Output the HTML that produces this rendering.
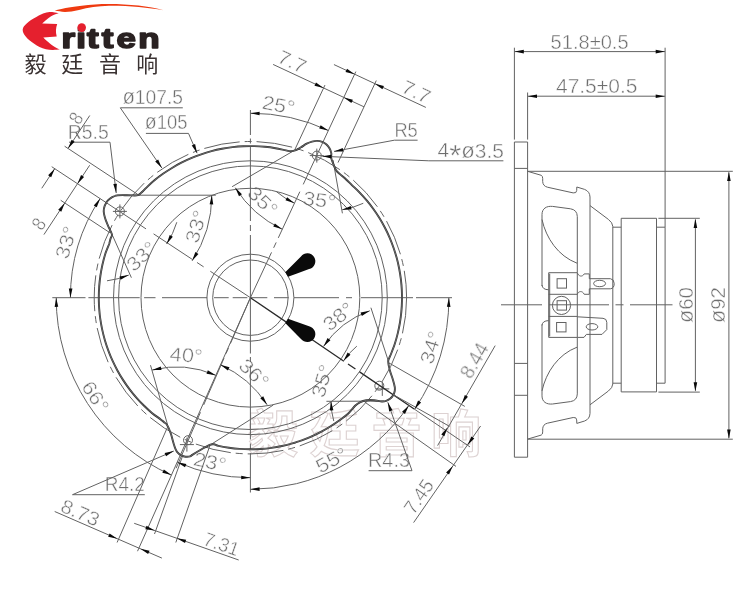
<!DOCTYPE html>
<html lang="zh">
<head>
<meta charset="utf-8">
<title>Eritten speaker drawing</title>
<style>
html,body{margin:0;padding:0;background:#fff;}
body{width:750px;height:600px;overflow:hidden;position:relative;font-family:"Liberation Sans","Noto Sans CJK SC",sans-serif;}
svg{position:absolute;left:0;top:0;display:block;}
.ln line,.ln path,.ln circle,.ln rect,.ln ellipse{fill:none;stroke:#626262;stroke-width:1;}
.ln .d{stroke:#2a2a2a;stroke-width:1.3;}
.hv path{fill:none;stroke-linejoin:round;}
.hv .h2{stroke:#2c2c2c;stroke-width:1.9;}
.hv .h1{stroke:#c8c8c8;stroke-width:0.4;}
.ar path{fill:#0a0a0a;stroke:none;}
.t{font-family:"Liberation Sans",sans-serif;fill:#6e6e6e;}
.tx text{stroke:#fff;stroke-width:0.45px;paint-order:fill stroke;}
.wm text{font-family:"Liberation Sans","Noto Sans CJK SC",sans-serif;font-weight:700;fill:none;stroke:#ddd2d2;stroke-width:1.1px;}
.brand{font-family:"Liberation Sans",sans-serif;font-weight:700;fill:#2a2222;stroke:#2a2222;stroke-width:1.6px;stroke-linejoin:round;}
.cn{font-family:"Liberation Sans","Noto Sans CJK SC",sans-serif;fill:#3a3232;}
</style>
</head>
<body>
<svg width="750" height="600" viewBox="0 0 750 600">
<rect x="0" y="0" width="750" height="600" fill="#ffffff"/>
<g class="wm">
<text font-size="50" x="248 309.5 371.5 431" y="451.5">毅廷音响</text>
</g>
<g class="tx" opacity="0.999">
<text class="t" font-size="19.55" x="79.07" y="125.73" transform="rotate(-56.6 79.07 125.73)" textLength="9.5" lengthAdjust="spacingAndGlyphs">8</text>
<text class="t" font-size="19.55" x="41.72" y="231.43" transform="rotate(-56.6 41.72 231.43)" textLength="9.5" lengthAdjust="spacingAndGlyphs">8</text>
<text class="t" font-size="19.55" x="67.7" y="260.11" transform="rotate(-73.3 67.7 260.11)" textLength="33" lengthAdjust="spacingAndGlyphs">33°</text>
<text class="t" font-size="19.55" x="133.97" y="272.41" transform="rotate(-43 133.97 272.41)" textLength="33" lengthAdjust="spacingAndGlyphs">33°</text>
<text class="t" font-size="19.55" x="197.78" y="244.17" transform="rotate(-73.3 197.78 244.17)" textLength="33" lengthAdjust="spacingAndGlyphs">33°</text>
<text class="t" font-size="19.55" x="276.25" y="61.72" transform="rotate(25 276.25 61.72)" textLength="29" lengthAdjust="spacingAndGlyphs">7.7</text>
<text class="t" font-size="19.55" x="400.37" y="91.79" transform="rotate(25 400.37 91.79)" textLength="29" lengthAdjust="spacingAndGlyphs">7.7</text>
<text class="t" font-size="19.55" x="261.16" y="108.43" transform="rotate(11 261.16 108.43)" textLength="33" lengthAdjust="spacingAndGlyphs">25°</text>
<text class="t" font-size="19.55" x="302.26" y="204.44" transform="rotate(8 302.26 204.44)" textLength="33" lengthAdjust="spacingAndGlyphs">35°</text>
<text class="t" font-size="19.55" x="246.22" y="194.61" transform="rotate(44 246.22 194.61)" textLength="33" lengthAdjust="spacingAndGlyphs">35°</text>
<text class="t" font-size="20.3" x="394.4" y="137.2" textLength="23.4" lengthAdjust="spacingAndGlyphs">R5</text>
<text class="t" font-size="20.3" x="437.6" y="156.9" textLength="66.4" lengthAdjust="spacingAndGlyphs">4<tspan font-size="30" dy="8.5">*</tspan><tspan dy="-7.5" font-size="21.5">ø</tspan>3.5</text>
<text class="t" font-size="19.55" x="470.98" y="380.07" transform="rotate(-60 470.98 380.07)" textLength="37" lengthAdjust="spacingAndGlyphs">8.44</text>
<text class="t" font-size="19.55" x="413.81" y="515.41" transform="rotate(-55.3 413.81 515.41)" textLength="37" lengthAdjust="spacingAndGlyphs">7.45</text>
<text class="t" font-size="19.55" x="432.56" y="365.17" transform="rotate(-73 432.56 365.17)" textLength="33" lengthAdjust="spacingAndGlyphs">34°</text>
<text class="t" font-size="19.55" x="320.18" y="473.79" transform="rotate(-28 320.18 473.79)" textLength="33" lengthAdjust="spacingAndGlyphs">55°</text>
<text class="t" font-size="19.55" x="329.5" y="331.88" transform="rotate(-38 329.5 331.88)" textLength="33" lengthAdjust="spacingAndGlyphs">38°</text>
<text class="t" font-size="19.55" x="324" y="398.65" transform="rotate(-74 324 398.65)" textLength="33" lengthAdjust="spacingAndGlyphs">35°</text>
<text class="t" font-size="20.3" x="368" y="467.2" textLength="42" lengthAdjust="spacingAndGlyphs">R4.3</text>
<text class="t" font-size="19.55" x="59.27" y="510.99" transform="rotate(23.5 59.27 510.99)" textLength="40" lengthAdjust="spacingAndGlyphs">8.73</text>
<text class="t" font-size="19.55" x="202.36" y="544.49" transform="rotate(19.3 202.36 544.49)" textLength="36" lengthAdjust="spacingAndGlyphs">7.31</text>
<text class="t" font-size="20.3" x="104.8" y="490.9" textLength="40" lengthAdjust="spacingAndGlyphs">R4.2</text>
<text class="t" font-size="19.55" x="192.51" y="464.93" transform="rotate(12 192.51 464.93)" textLength="33" lengthAdjust="spacingAndGlyphs">23°</text>
<text class="t" font-size="19.55" x="80.76" y="386.4" transform="rotate(57 80.76 386.4)" textLength="33" lengthAdjust="spacingAndGlyphs">66°</text>
<text class="t" font-size="19.55" x="169.29" y="360.73" transform="rotate(4 169.29 360.73)" textLength="33" lengthAdjust="spacingAndGlyphs">40°</text>
<text class="t" font-size="19.55" x="237.62" y="366.91" transform="rotate(44 237.62 366.91)" textLength="33" lengthAdjust="spacingAndGlyphs">36°</text>
<text class="t" font-size="20.3" x="122.4" y="103.8" textLength="60.6" lengthAdjust="spacingAndGlyphs"><tspan font-size="21.5">ø</tspan>107.5</text>
<text class="t" font-size="20.3" x="144.8" y="128.9" textLength="42.6" lengthAdjust="spacingAndGlyphs"><tspan font-size="21.5">ø</tspan>105</text>
<text class="t" font-size="20.3" x="67.8" y="139.3" textLength="41" lengthAdjust="spacingAndGlyphs">R5.5</text>
<text class="t" font-size="20.3" x="550.6" y="48.6" textLength="78" lengthAdjust="spacingAndGlyphs">51.8±0.5</text>
<text class="t" font-size="20.3" x="556" y="93.3" textLength="81.4" lengthAdjust="spacingAndGlyphs">47.5±0.5</text>
<text class="t" font-size="20.3" x="693.4" y="323" transform="rotate(-90 693.4 323)" textLength="36" lengthAdjust="spacingAndGlyphs"><tspan font-size="21.5">ø</tspan>60</text>
<text class="t" font-size="20.3" x="725.4" y="323" transform="rotate(-90 725.4 323)" textLength="36" lengthAdjust="spacingAndGlyphs"><tspan font-size="21.5">ø</tspan>92</text>
</g>
<g class="ln">
<circle cx="250.4" cy="297.7" r="43.5"/>
<circle cx="250.4" cy="297.7" r="37.7"/>
<circle cx="250.4" cy="297.7" r="109.4"/>
<circle cx="250.4" cy="297.7" r="131.8"/>
<circle cx="250.4" cy="297.7" r="136.9"/>
<circle cx="250.4" cy="297.7" r="156.2" stroke-dasharray="36 5 7 5"/>
<path d="M52.3 297.7H85.5M88.4 297.7H139.7M144.1 297.7H155.5M162 297.7H207.3M214 297.7H228.7M232.7 297.7H247.3M250 297.7H267.3M274 297.7H288.7M294 297.7H339M346 297.7H352M361 297.7H413M416 297.7H452"/>
<path d="M250.4 110V135M250.4 138.5V143.5M250.4 147V221M250.4 225V231M250.4 235V353.5M250.4 357V362M250.4 365.5V439.5M250.4 443.5V449M250.4 453V492.5"/>
<circle cx="119.9" cy="211.4" r="4.5"/>
<line x1="112.9" y1="211.4" x2="126.9" y2="211.4"/>
<line x1="119.9" y1="204.4" x2="119.9" y2="218.4"/>
<circle cx="316.8" cy="155.6" r="4.5"/>
<line x1="309.8" y1="155.6" x2="323.8" y2="155.6"/>
<line x1="316.8" y1="148.6" x2="316.8" y2="162.6"/>
<circle cx="379.3" cy="385.7" r="4.5"/>
<line x1="375.3" y1="388.9" x2="389.3" y2="388.9"/>
<line x1="382.3" y1="381.9" x2="382.3" y2="395.9"/>
<circle cx="188" cy="440.2" r="4.5"/>
<line x1="179.9" y1="444.6" x2="193.9" y2="444.6"/>
<line x1="186.9" y1="437.6" x2="186.9" y2="451.6"/>
<line x1="250.4" y1="297.7" x2="51.71" y2="166.69" stroke-dasharray="48 8 8 6 46 9 400"/>
<line x1="137.66" y1="194.37" x2="64.61" y2="146.21"/>
<line x1="109.95" y1="232.76" x2="60.7" y2="200.28"/>
<line x1="89.78" y1="115.49" x2="68.03" y2="148.46"/>
<line x1="54.71" y1="168.67" x2="41.78" y2="188.29"/>
<line x1="89.67" y1="165.25" x2="43.92" y2="234.62"/>
<path d="M70.4 297.7A180 180 0 0 1 100.13 198.61"/>
<line x1="108.5" y1="226.5" x2="131.4" y2="277.7"/>
<path d="M128.76 275.11A83.4 83.4 0 0 1 107 280.8"/>
<path d="M166.63 243.91A83.4 83.4 0 0 0 176.8 222.24"/>
<line x1="115" y1="195.2" x2="215.8" y2="195.2"/>
<path d="M211.8 195.2A119.2 119.2 0 0 1 192.11 260.82"/>
<line x1="250.4" y1="297.7" x2="355.84" y2="71.58" stroke-dasharray="50 5 6 5 51 8 400"/>
<line x1="294.85" y1="149.61" x2="324.94" y2="85.08"/>
<line x1="338.02" y1="162.57" x2="376.27" y2="80.55"/>
<line x1="273.11" y1="64.44" x2="364.01" y2="106.83"/>
<line x1="333.95" y1="64.57" x2="425.85" y2="107.42"/>
<path d="M250.4 113.2A184.5 184.5 0 0 1 328.37 130.49"/>
<line x1="333" y1="160" x2="342.4" y2="213.3"/>
<path d="M363.29 203.27A81.8 81.8 0 0 1 342.19 209.73"/>
<path d="M294.43 203.14A81.8 81.8 0 0 1 276.42 191.66"/>
<line x1="295.5" y1="149.7" x2="232.1" y2="186.7"/>
<path d="M282.26 229.24A110.6 110.6 0 0 1 235.27 187.72"/>
<line x1="394.4" y1="140.2" x2="417.6" y2="140.2"/>
<line x1="394.4" y1="140.2" x2="334" y2="151.4"/>
<line x1="428.8" y1="160.8" x2="503.4" y2="160.8"/>
<line x1="428.8" y1="160.8" x2="322.3" y2="156.3"/>
<line x1="250.4" y1="297.7" x2="414.16" y2="408.99" class="d" stroke-dasharray="113 5 9 5 80"/>
<line x1="414.16" y1="408.99" x2="469.99" y2="446.93"/>
<line x1="364.8" y1="402.1" x2="456" y2="466.4"/>
<line x1="388" y1="362.4" x2="464.8" y2="406.4"/>
<line x1="392.8" y1="394.4" x2="449.6" y2="426.4"/>
<line x1="495.2" y1="345.6" x2="437.6" y2="445.6"/>
<line x1="480.6" y1="426" x2="413.6" y2="522.6"/>
<path d="M448.9 297.7A198.5 198.5 0 0 1 414.58 409.27"/>
<path d="M408.87 405.4A191.6 191.6 0 0 1 250.4 489.3"/>
<line x1="388.4" y1="361.1" x2="370.9" y2="307.7"/>
<path d="M323.47 346.45A93.5 93.5 0 0 1 369.74 310.81"/>
<line x1="326.4" y1="401.3" x2="384" y2="401.1"/>
<path d="M333.78 421.09A71.8 71.8 0 0 1 331 401.3"/>
<path d="M343.42 360.94A71.8 71.8 0 0 1 356.84 346.14"/>
<line x1="368.6" y1="470.7" x2="412" y2="470.7"/>
<line x1="412" y1="470.7" x2="387.8" y2="402.3"/>
<line x1="250.4" y1="297.7" x2="137.53" y2="551.21"/>
<line x1="250.4" y1="297.7" x2="176.08" y2="468.21" stroke-dasharray="50 5 6 5 51 8 400"/>
<line x1="167.3" y1="427.6" x2="117.1" y2="542.5"/>
<line x1="182.2" y1="457.1" x2="154.5" y2="534"/>
<line x1="210" y1="445.3" x2="175.8" y2="542.5"/>
<line x1="54.7" y1="511.5" x2="161.9" y2="558.1"/>
<line x1="134.2" y1="523.3" x2="238.7" y2="560"/>
<line x1="72.5" y1="494.7" x2="144.8" y2="494.7"/>
<line x1="72.5" y1="494.7" x2="173.8" y2="451"/>
<path d="M250.4 477.7A180 180 0 0 1 177.19 462.14"/>
<path d="M171.41 475.11A194.2 194.2 0 0 1 56.2 297.7"/>
<line x1="150.5" y1="365.2" x2="167.6" y2="424.9"/>
<path d="M152.15 370.12A96.5 96.5 0 0 1 215.75 375.34"/>
<line x1="211.1" y1="444.4" x2="273.2" y2="405.1"/>
<path d="M220.43 364.84A108 108 0 0 1 267.1 404.72"/>
<line x1="120.3" y1="107.8" x2="182.8" y2="107.8"/>
<line x1="120.3" y1="107.8" x2="161.9" y2="168.1"/>
<line x1="145.9" y1="133.4" x2="188.5" y2="133.4"/>
<line x1="188.5" y1="133.4" x2="197.1" y2="153.2"/>
<line x1="69" y1="142.2" x2="110" y2="142.2"/>
<line x1="110" y1="142.2" x2="116.2" y2="193"/>
</g>
<g class="ln">
<line x1="514.4" y1="47.7" x2="514.4" y2="139.6"/>
<line x1="527.6" y1="92.5" x2="527.6" y2="139.6"/>
<line x1="665.1" y1="47.7" x2="665.1" y2="227.2"/>
<line x1="514.4" y1="51.6" x2="665.1" y2="51.6"/>
<line x1="527.6" y1="96.2" x2="665.1" y2="96.2"/>
<path d="M514.4 142H527.6V457.2H514.4Z"/>
<line x1="514.4" y1="168.4" x2="527.6" y2="168.4"/>
<line x1="514.4" y1="363.4" x2="527.6" y2="363.4"/>
<line x1="514.4" y1="395.3" x2="527.6" y2="395.3"/>
<line x1="527.6" y1="171.3" x2="732.8" y2="171.3"/>
<line x1="527.6" y1="439.2" x2="732.8" y2="439.2"/>
<path d="M527.6 171.3L541.2 175.3Q542.7 175.9 542.7 178.5L542.7 181.6Q542.9 186 547.4 187.2L573.2 192.9Q576.6 193.4 576.7 190.5L576.8 187L584.6 189.4Q589.8 191.4 590 197"/>
<path d="M590 205.6L608.4 219.4Q612.6 222.6 612.8 226.4"/>
<line x1="612.8" y1="227.2" x2="621.2" y2="227.2"/>
<path d="M542 286L542 214.5C542 208.5 546.5 205.8 552.5 206.4L570.5 208.8Q577.1 209.8 577.3 216.5"/>
<path d="M542 219.5C546 238 558 256 577 263.2"/>
<path d="M542 285Q542.3 289.6 548.7 289.8"/>
<line x1="658.4" y1="218.3" x2="699.8" y2="218.3"/>
<path d="M527.6 439.1L541.2 435.1Q542.7 434.5 542.7 431.9L542.7 428.8Q542.9 424.4 547.4 423.2L573.2 417.5Q576.6 417 576.7 419.9L576.8 423.4L584.6 421Q589.8 419 590 413.4"/>
<path d="M590 404.8L608.4 391Q612.6 387.8 612.8 384"/>
<line x1="612.8" y1="383.2" x2="621.2" y2="383.2"/>
<path d="M542 324.4L542 395.9C542 401.9 546.5 404.6 552.5 404L570.5 401.6Q577.1 400.6 577.3 393.9"/>
<path d="M542 390.9C546 372.4 558 354.4 577 347.2"/>
<path d="M542 325.4Q542.3 320.8 548.7 320.6"/>
<line x1="658.4" y1="392.1" x2="699.8" y2="392.1"/>
<line x1="590" y1="197" x2="590" y2="413.4"/>
<line x1="612.8" y1="226.4" x2="612.8" y2="384"/>
<line x1="577.3" y1="216.5" x2="577.3" y2="272.7"/>
<line x1="577.3" y1="337.4" x2="577.3" y2="393.9"/>
<path d="M621.2 218.3H656.5V391.9H621.2Z"/>
<path d="M656.5 227.2H665.1V383.2H656.5"/>
<line x1="501" y1="304.8" x2="672.5" y2="304.8" stroke-dasharray="41 7 60 6.5 8 6.5 60"/>
<path d="M548.7 272.7H577.3V337.4H548.7Z"/>
<line x1="548.7" y1="294.3" x2="577.3" y2="294.3"/>
<line x1="548.7" y1="316.4" x2="577.3" y2="316.4"/>
<line x1="549.7" y1="273.7" x2="549.7" y2="336.4"/>
<rect x="557.1" y="278.7" width="9.4" height="9.4"/>
<rect x="557.1" y="300.7" width="9.4" height="9.4"/>
<rect x="556.6" y="322.5" width="9.4" height="9.4"/>
<circle cx="561.5" cy="305.4" r="9.1"/>
<path d="M577.3 272.7C578.3 276.5 582.5 277.3 584.2 273.9H589.3V278.7H610.4Q614.2 279.2 614.2 283.6Q614.2 288.3 610.4 288.8H589.3V294.3H584.2C582.5 290.4 578.3 291 577.3 294.3"/>
<ellipse cx="599.6" cy="283.5" rx="6" ry="3.2"/>
<path d="M577.3 316.8L603.0 318.3Q606.8 318.6 606.8 322.4V329.6L602.0 334.4H586.4L584.0 337.4H577.3"/>
<ellipse cx="592.0" cy="326.8" rx="5.8" ry="3.2"/>
<line x1="695.4" y1="219.5" x2="695.4" y2="390.7"/>
<line x1="728.9" y1="172.3" x2="728.9" y2="438.2"/>
</g>
<g class="hv">
<path d="M109.2 244C109.43 243.08 110.15 240.1 110.6 238.5C111.05 236.9 112.32 236.5 111.9 234.4C111.48 232.3 109.27 228.72 108.1 225.9C106.93 223.08 105.63 219.94 104.9 217.5C104.17 215.06 103.72 213.26 103.7 211.29C103.68 209.31 104.09 207.41 104.76 205.65C105.42 203.89 106.47 202.15 107.71 200.73C108.95 199.31 110.54 198.04 112.19 197.15C113.85 196.25 115.18 195.68 117.65 195.36C120.11 195.03 123.79 195.19 127 195.2C130.21 195.21 134.53 195.8 136.9 195.4C139.27 195 139.6 194.1 141.2 192.8C142.8 191.5 144.29 189.68 146.5 187.6C148.71 185.52 151.68 182.64 154.43 180.34C157.18 178.05 160.07 175.9 163 173.83C165.92 171.77 168.93 169.8 172 167.95C175.07 166.09 178.21 164.35 181.4 162.71C184.59 161.08 187.84 159.56 191.14 158.16C194.44 156.76 197.8 155.47 201.19 154.31C204.58 153.15 208.01 152.1 211.48 151.18C214.94 150.26 218.45 149.46 221.97 148.79C225.49 148.12 229.04 147.57 232.6 147.15C236.15 146.73 239.74 146.43 243.32 146.27C246.9 146.1 250.49 146.06 254.07 146.14C257.65 146.23 261.24 146.45 264.81 146.79C268.38 147.13 271.94 147.59 275.48 148.19C279.01 148.79 283.46 149.9 286 150.4C288.54 150.9 289.03 151.25 290.7 151.2C292.37 151.15 294.28 150.75 296 150.1C297.72 149.45 299.22 148.37 301 147.3C302.78 146.23 304.87 144.65 306.7 143.7C308.53 142.75 310.23 142.07 312 141.6C313.77 141.13 315.61 140.85 317.31 140.91C319.01 140.96 320.68 141.33 322.21 141.93C323.74 142.54 325.25 143.46 326.48 144.54C327.72 145.62 328.83 146.99 329.63 148.43C330.43 149.86 331.02 151.53 331.29 153.15C331.57 154.77 330.84 156.09 331.28 158.15C331.71 160.21 333.03 163.38 333.9 165.5C334.77 167.62 335.45 169.42 336.5 170.9C337.55 172.38 338.95 173.3 340.2 174.4C341.45 175.5 342.06 175.72 344 177.5C345.94 179.28 349.26 182.54 351.87 185.06C354.48 187.58 357.17 190.01 359.67 192.62C362.18 195.23 364.6 197.93 366.92 200.71C369.23 203.5 371.45 206.37 373.56 209.31C375.67 212.25 377.68 215.27 379.58 218.35C381.47 221.44 383.26 224.6 384.93 227.81C386.6 231.02 388.15 234.3 389.59 237.62C391.02 240.94 392.34 244.32 393.53 247.74C394.72 251.16 395.8 254.63 396.74 258.12C397.69 261.61 398.51 265.15 399.2 268.7C399.89 272.25 400.46 275.84 400.89 279.43C401.33 283.02 401.64 286.64 401.82 290.25C401.99 293.87 402.04 297.5 401.96 301.11C401.88 304.73 401.67 308.36 401.33 311.96C400.99 315.56 400.52 319.16 399.92 322.73C399.32 326.3 398.59 329.86 397.74 333.37C396.89 336.89 395.93 340.39 394.81 343.83C393.69 347.27 391.9 351.71 391 354C390.1 356.29 389.87 356.32 389.4 357.6C388.93 358.88 388.13 359.58 388.2 361.7C388.27 363.82 389 367.27 389.8 370.3C390.6 373.33 392.17 377.09 393 379.9C393.83 382.71 394.51 385.21 394.78 387.15C395.05 389.08 394.92 390.11 394.62 391.52C394.33 392.92 393.75 394.36 392.99 395.58C392.22 396.8 391.19 397.94 390.06 398.83C388.93 399.71 387.56 400.44 386.19 400.88C384.83 401.33 383.89 401.61 381.86 401.49C379.83 401.38 376.59 400.4 374 400.2C371.41 400 368.65 399.95 366.3 400.3C363.95 400.65 361.72 401.43 359.9 402.3C358.08 403.17 357.34 403.64 355.4 405.5C353.46 407.36 350.87 411.04 348.29 413.46C345.71 415.89 342.78 417.95 339.91 420.05C337.05 422.15 334.1 424.15 331.1 426.04C328.09 427.93 325.01 429.71 321.88 431.39C318.75 433.06 315.56 434.63 312.32 436.08C309.08 437.53 305.78 438.87 302.44 440.09C299.11 441.31 295.72 442.41 292.31 443.39C288.9 444.37 285.45 445.24 281.97 445.98C278.5 446.71 275 447.33 271.48 447.83C267.97 448.32 264.42 448.69 260.88 448.94C257.34 449.18 253.78 449.3 250.23 449.3C246.68 449.3 243.12 449.17 239.58 448.91C236.04 448.66 232.5 448.28 228.99 447.78C225.47 447.28 221 446.48 218.5 445.9C216 445.32 215.47 444.48 214 444.3C212.53 444.12 211.83 443.93 209.7 444.8C207.57 445.67 204.03 447.87 201.2 449.5C198.37 451.13 194.56 453.45 192.7 454.6C190.84 455.75 191.25 456.03 190.06 456.38C188.87 456.74 187.04 456.89 185.57 456.73C184.11 456.57 182.57 456.1 181.27 455.42C179.96 454.74 178.7 453.75 177.73 452.64C176.76 451.54 176.14 450.36 175.44 448.77C174.73 447.18 174.27 445.65 173.5 443.1C172.73 440.55 171.87 436.53 170.8 433.5C169.73 430.47 168.27 426.82 167.1 424.9C165.93 422.98 164.87 422.92 163.8 422C162.73 421.08 162.69 420.91 160.7 419.4C158.71 417.89 154.7 415.24 151.89 412.93C149.08 410.62 146.43 408.09 143.84 405.53C141.24 402.97 138.74 400.3 136.34 397.56C133.94 394.82 131.63 391.99 129.43 389.08C127.24 386.17 125.14 383.18 123.16 380.12C121.18 377.06 119.3 373.92 117.55 370.73C115.79 367.54 114.15 364.27 112.63 360.96C111.11 357.65 109.7 354.27 108.43 350.86C107.15 347.45 105.99 343.98 104.96 340.48C103.93 336.99 103.03 333.45 102.26 329.89C101.48 326.33 100.84 322.73 100.32 319.12C99.81 315.51 99.42 311.88 99.17 308.24C98.91 304.61 98.79 300.95 98.8 297.31C98.81 293.67 98.95 290.01 99.22 286.38C99.5 282.75 99.9 279.11 100.43 275.51C100.97 271.9 101.63 268.31 102.42 264.75C103.22 261.2 104.06 257.63 105.18 254.17C106.31 250.71 108.53 245.69 109.2 244" class="h2"/>
<path d="M109.2 244C109.43 243.08 110.15 240.1 110.6 238.5C111.05 236.9 112.32 236.5 111.9 234.4C111.48 232.3 109.27 228.72 108.1 225.9C106.93 223.08 105.63 219.94 104.9 217.5C104.17 215.06 103.72 213.26 103.7 211.29C103.68 209.31 104.09 207.41 104.76 205.65C105.42 203.89 106.47 202.15 107.71 200.73C108.95 199.31 110.54 198.04 112.19 197.15C113.85 196.25 115.18 195.68 117.65 195.36C120.11 195.03 123.79 195.19 127 195.2C130.21 195.21 134.53 195.8 136.9 195.4C139.27 195 139.6 194.1 141.2 192.8C142.8 191.5 144.29 189.68 146.5 187.6C148.71 185.52 151.68 182.64 154.43 180.34C157.18 178.05 160.07 175.9 163 173.83C165.92 171.77 168.93 169.8 172 167.95C175.07 166.09 178.21 164.35 181.4 162.71C184.59 161.08 187.84 159.56 191.14 158.16C194.44 156.76 197.8 155.47 201.19 154.31C204.58 153.15 208.01 152.1 211.48 151.18C214.94 150.26 218.45 149.46 221.97 148.79C225.49 148.12 229.04 147.57 232.6 147.15C236.15 146.73 239.74 146.43 243.32 146.27C246.9 146.1 250.49 146.06 254.07 146.14C257.65 146.23 261.24 146.45 264.81 146.79C268.38 147.13 271.94 147.59 275.48 148.19C279.01 148.79 283.46 149.9 286 150.4C288.54 150.9 289.03 151.25 290.7 151.2C292.37 151.15 294.28 150.75 296 150.1C297.72 149.45 299.22 148.37 301 147.3C302.78 146.23 304.87 144.65 306.7 143.7C308.53 142.75 310.23 142.07 312 141.6C313.77 141.13 315.61 140.85 317.31 140.91C319.01 140.96 320.68 141.33 322.21 141.93C323.74 142.54 325.25 143.46 326.48 144.54C327.72 145.62 328.83 146.99 329.63 148.43C330.43 149.86 331.02 151.53 331.29 153.15C331.57 154.77 330.84 156.09 331.28 158.15C331.71 160.21 333.03 163.38 333.9 165.5C334.77 167.62 335.45 169.42 336.5 170.9C337.55 172.38 338.95 173.3 340.2 174.4C341.45 175.5 342.06 175.72 344 177.5C345.94 179.28 349.26 182.54 351.87 185.06C354.48 187.58 357.17 190.01 359.67 192.62C362.18 195.23 364.6 197.93 366.92 200.71C369.23 203.5 371.45 206.37 373.56 209.31C375.67 212.25 377.68 215.27 379.58 218.35C381.47 221.44 383.26 224.6 384.93 227.81C386.6 231.02 388.15 234.3 389.59 237.62C391.02 240.94 392.34 244.32 393.53 247.74C394.72 251.16 395.8 254.63 396.74 258.12C397.69 261.61 398.51 265.15 399.2 268.7C399.89 272.25 400.46 275.84 400.89 279.43C401.33 283.02 401.64 286.64 401.82 290.25C401.99 293.87 402.04 297.5 401.96 301.11C401.88 304.73 401.67 308.36 401.33 311.96C400.99 315.56 400.52 319.16 399.92 322.73C399.32 326.3 398.59 329.86 397.74 333.37C396.89 336.89 395.93 340.39 394.81 343.83C393.69 347.27 391.9 351.71 391 354C390.1 356.29 389.87 356.32 389.4 357.6C388.93 358.88 388.13 359.58 388.2 361.7C388.27 363.82 389 367.27 389.8 370.3C390.6 373.33 392.17 377.09 393 379.9C393.83 382.71 394.51 385.21 394.78 387.15C395.05 389.08 394.92 390.11 394.62 391.52C394.33 392.92 393.75 394.36 392.99 395.58C392.22 396.8 391.19 397.94 390.06 398.83C388.93 399.71 387.56 400.44 386.19 400.88C384.83 401.33 383.89 401.61 381.86 401.49C379.83 401.38 376.59 400.4 374 400.2C371.41 400 368.65 399.95 366.3 400.3C363.95 400.65 361.72 401.43 359.9 402.3C358.08 403.17 357.34 403.64 355.4 405.5C353.46 407.36 350.87 411.04 348.29 413.46C345.71 415.89 342.78 417.95 339.91 420.05C337.05 422.15 334.1 424.15 331.1 426.04C328.09 427.93 325.01 429.71 321.88 431.39C318.75 433.06 315.56 434.63 312.32 436.08C309.08 437.53 305.78 438.87 302.44 440.09C299.11 441.31 295.72 442.41 292.31 443.39C288.9 444.37 285.45 445.24 281.97 445.98C278.5 446.71 275 447.33 271.48 447.83C267.97 448.32 264.42 448.69 260.88 448.94C257.34 449.18 253.78 449.3 250.23 449.3C246.68 449.3 243.12 449.17 239.58 448.91C236.04 448.66 232.5 448.28 228.99 447.78C225.47 447.28 221 446.48 218.5 445.9C216 445.32 215.47 444.48 214 444.3C212.53 444.12 211.83 443.93 209.7 444.8C207.57 445.67 204.03 447.87 201.2 449.5C198.37 451.13 194.56 453.45 192.7 454.6C190.84 455.75 191.25 456.03 190.06 456.38C188.87 456.74 187.04 456.89 185.57 456.73C184.11 456.57 182.57 456.1 181.27 455.42C179.96 454.74 178.7 453.75 177.73 452.64C176.76 451.54 176.14 450.36 175.44 448.77C174.73 447.18 174.27 445.65 173.5 443.1C172.73 440.55 171.87 436.53 170.8 433.5C169.73 430.47 168.27 426.82 167.1 424.9C165.93 422.98 164.87 422.92 163.8 422C162.73 421.08 162.69 420.91 160.7 419.4C158.71 417.89 154.7 415.24 151.89 412.93C149.08 410.62 146.43 408.09 143.84 405.53C141.24 402.97 138.74 400.3 136.34 397.56C133.94 394.82 131.63 391.99 129.43 389.08C127.24 386.17 125.14 383.18 123.16 380.12C121.18 377.06 119.3 373.92 117.55 370.73C115.79 367.54 114.15 364.27 112.63 360.96C111.11 357.65 109.7 354.27 108.43 350.86C107.15 347.45 105.99 343.98 104.96 340.48C103.93 336.99 103.03 333.45 102.26 329.89C101.48 326.33 100.84 322.73 100.32 319.12C99.81 315.51 99.42 311.88 99.17 308.24C98.91 304.61 98.79 300.95 98.8 297.31C98.81 293.67 98.95 290.01 99.22 286.38C99.5 282.75 99.9 279.11 100.43 275.51C100.97 271.9 101.63 268.31 102.42 264.75C103.22 261.2 104.06 257.63 105.18 254.17C106.31 250.71 108.53 245.69 109.2 244" class="h1"/>
</g>
<g class="ar">
<path d="M288.03 276.72L309.09 269.09A8 8 0 1 0 300.99 256.42L285.22 272.34Z"/>
<path d="M285.22 323.06L300.99 338.98A8 8 0 1 0 309.09 326.31L288.03 318.68Z"/>
<path d="M68.03 148.46L71.59 139.79L74.6 141.77Z"/>
<path d="M54.71 168.67L51.15 177.34L48.14 175.36Z"/>
<path d="M77.5 183.7L81.06 175.02L84.07 177.01Z"/>
<path d="M64.79 202.98L61.23 211.65L58.22 209.67Z"/>
<path d="M70.4 297.7L68.84 288.46L72.43 288.55Z"/>
<path d="M100.13 198.61L96.79 207.37L93.73 205.47Z"/>
<path d="M128.76 275.11L120.67 279.84L119.48 276.44Z"/>
<path d="M166.63 243.91L169.7 235.06L172.81 236.87Z"/>
<path d="M211.8 195.2L213.24 204.46L209.65 204.32Z"/>
<path d="M192.11 260.82L195.34 252.01L198.42 253.88Z"/>
<path d="M323.59 87.98L314.49 85.72L316.01 82.46Z"/>
<path d="M343.8 97.41L352.9 99.66L351.38 102.93Z"/>
<path d="M354.62 74.2L345.52 71.95L347.04 68.69Z"/>
<path d="M374.83 83.63L383.93 85.89L382.41 89.15Z"/>
<path d="M250.4 113.2L259.64 111.63L259.55 115.23Z"/>
<path d="M328.37 130.49L319.22 128.46L320.66 125.16Z"/>
<path d="M342.19 209.73L350.78 205.98L351.56 209.49Z"/>
<path d="M294.43 203.14L285.47 200.37L287.17 197.2Z"/>
<path d="M282.26 229.24L273.26 226.6L274.92 223.41Z"/>
<path d="M235.27 187.72L241.96 194.29L238.99 196.32Z"/>
<path d="M334 151.4L342.72 147.95L343.37 151.49Z"/>
<path d="M322.3 156.3L331.56 154.87L331.42 158.47Z"/>
<path d="M461.8 403.8L464.84 394.93L467.96 396.73Z"/>
<path d="M447.4 427.4L444.36 436.27L441.24 434.47Z"/>
<path d="M467.6 445L471.36 436.41L474.32 438.47Z"/>
<path d="M452.8 465.9L449.04 474.49L446.08 472.43Z"/>
<path d="M448.9 297.7L450.49 306.94L446.89 306.86Z"/>
<path d="M414.58 409.27L418.06 400.57L421.08 402.52Z"/>
<path d="M250.4 489.3L259.55 487.28L259.64 490.88Z"/>
<path d="M408.87 405.4L404.98 413.93L402.05 411.83Z"/>
<path d="M323.47 346.45L327.57 338.02L330.44 340.18Z"/>
<path d="M369.74 310.81L361.9 315.96L360.54 312.62Z"/>
<path d="M331 401.3L333.39 410.37L329.79 410.6Z"/>
<path d="M343.42 360.94L347.64 352.57L350.48 354.78Z"/>
<path d="M387.8 402.3L392.57 410.37L389.17 411.57Z"/>
<path d="M117.3 538.7L108.15 536.68L109.58 533.38Z"/>
<path d="M140.4 548.8L149.55 550.82L148.12 554.12Z"/>
<path d="M154.6 530.5L145.32 529.15L146.52 525.75Z"/>
<path d="M176.9 538.3L186.18 539.65L184.98 543.05Z"/>
<path d="M173.8 451L166.07 456.3L164.64 452.99Z"/>
<path d="M250.4 477.7L241.16 479.26L241.25 475.67Z"/>
<path d="M177.19 462.14L186.37 464L185 467.33Z"/>
<path d="M171.41 475.11L162.33 472.8L163.87 469.54Z"/>
<path d="M56.2 297.7L58.22 306.85L54.62 306.94Z"/>
<path d="M152.15 370.12L160.79 366.47L161.53 369.99Z"/>
<path d="M215.75 375.34L206.52 373.68L207.83 370.33Z"/>
<path d="M220.43 364.84L229.47 367.32L227.86 370.55Z"/>
<path d="M267.1 404.72L260.3 398.26L263.24 396.18Z"/>
<path d="M161.9 168.1L155.19 161.55L158.16 159.51Z"/>
<path d="M197.1 153.2L191.78 145.48L195.09 144.04Z"/>
<path d="M116.2 193L113.3 184.09L116.87 183.65Z"/>
<path d="M514.6 51.6L523.8 49.8L523.8 53.4Z"/>
<path d="M664.9 51.6L655.7 53.4L655.7 49.8Z"/>
<path d="M527.8 96.2L537 94.4L537 98Z"/>
<path d="M664.9 96.2L655.7 98L655.7 94.4Z"/>
<path d="M695.4 218.8L697.2 228L693.6 228Z"/>
<path d="M695.4 391.4L693.6 382.2L697.2 382.2Z"/>
<path d="M728.9 171.8L730.7 181L727.1 181Z"/>
<path d="M728.9 438.7L727.1 429.5L730.7 429.5Z"/>
</g>
<g class="lg" opacity="0.999">
<path d="M58.7 13.3C57.83 13.13 55.27 12.47 53.5 12.3C51.73 12.13 50.1 11.98 48.1 12.3C46.1 12.62 43.47 13.42 41.5 14.2C39.53 14.98 38.05 16.03 36.3 17C34.55 17.97 32.6 18.93 31 20C29.4 21.07 27.87 22.35 26.7 23.4C25.53 24.45 24.67 25.3 24 26.3C23.33 27.3 22.8 28.27 22.7 29.4C22.6 30.53 22.9 31.93 23.4 33.1C23.9 34.27 24.7 35.2 25.7 36.4C26.7 37.6 27.98 39.07 29.4 40.3C30.82 41.53 32.52 42.7 34.2 43.8C35.88 44.9 37.55 46 39.5 46.9C41.45 47.8 43.73 48.68 45.9 49.2C48.07 49.72 50.18 49.93 52.5 50C54.82 50.07 58.58 49.67 59.8 49.6C56 47.6 52.5 45.6 50.2 43.7C47.5 41.6 45 39.6 43.3 37.6L56.7 36.4Q54.9 30.6 57.2 24.0L42.2 23.4C44.5 21.2 46.5 19.4 48.6 17.9C52 15.6 55 14.4 58.7 13.3Z" fill="#e5202e"/>
<path d="M54.8 10.6C62 8.4 76 5.6 95 4.4C118 3.0 146 5.2 163.6 10.3C148 7.6 128 5.6 109 5.8C98 6.0 88 7.6 79 10.0C74 11.2 69 12.0 65 12.0C61 11.8 58 11.2 54.8 10.6Z" fill="#ef3a10"/>
<text class="brand" font-size="28" transform="translate(0 47.9) scale(1.25 1)" x="49.2 61 69.52 81.44 93.12 110.64" y="0">ritten</text>
<circle cx="81.7" cy="27.6" r="4.3" fill="#e5202e"/>
<text class="cn" font-size="22" x="24.6 61.2 99 136.3" y="72.4">毅廷音响</text>
</g>
</svg>
</body>
</html>
